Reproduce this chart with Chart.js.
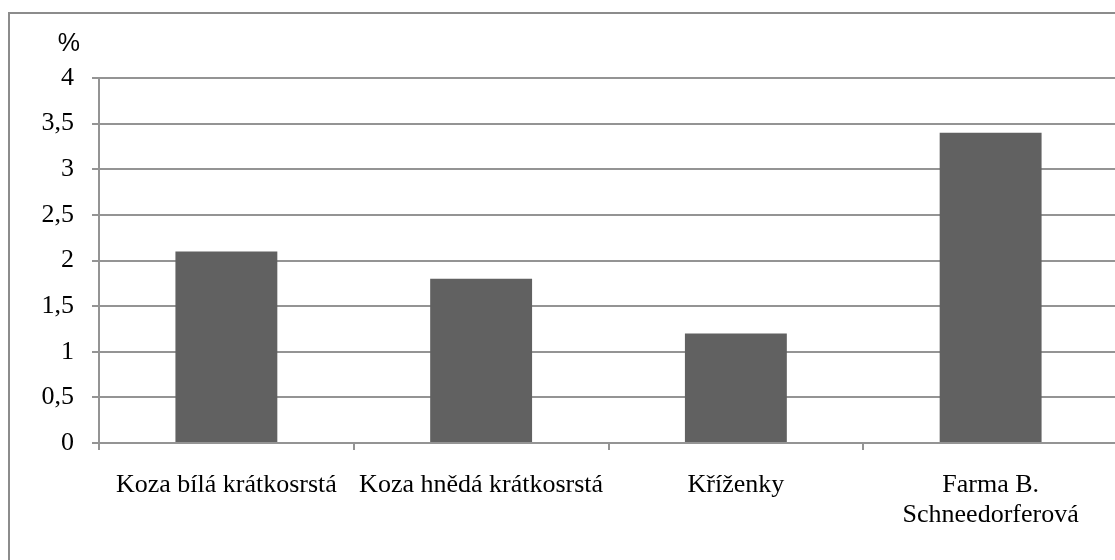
<!DOCTYPE html>
<html>
<head>
<meta charset="utf-8">
<script src="https://cdn.jsdelivr.net/npm/chart.js@4.4.1/dist/chart.umd.min.js"></script>
<style>
  html, body { margin: 0; padding: 0; background: #fff; overflow: hidden; width: 1115px; height: 560px; }
  #frame {
    position: absolute; left: 8px; top: 12px;
    width: 1112px; height: 548px;
    border-left: 2px solid #8c8c8c; border-top: 2px solid #8c8c8c;
  }
  canvas { display: block; }
</style>
</head>
<body>
<div id="frame"><canvas id="c" width="1112" height="548"></canvas></div>
<script>
// Breeds / farm groups on the category axis
const categories = [
  'Koza bílá krátkosrstá',
  'Koza hnědá krátkosrstá',
  'Kříženky',
  ['Farma B.', 'Schneedorferová']
];
// Percentage values per group
const values = [2.1, 1.8, 1.2, 3.4];
// Value axis
const yMin = 0;
const yMax = 4;
const yStep = 0.5;
const unitLabel = '%';

const serif = '"Liberation Serif", "Times New Roman", serif';
const sans = '"Liberation Sans", Arial, sans-serif';
const lineColor = '#949494';

// Draws the unit label above the value axis
const unitPlugin = {
  id: 'unitLabel',
  afterDraw(chart) {
    const ctx = chart.ctx;
    const y = chart.scales.y;
    ctx.save();
    ctx.fillStyle = '#000';
    ctx.font = '25px ' + sans;
    ctx.textAlign = 'right';
    ctx.textBaseline = 'middle';
    ctx.fillText(unitLabel, y.right - 19, y.top - 34);
    ctx.restore();
  }
};

new Chart(document.getElementById('c'), {
  type: 'bar',
  data: {
    labels: categories,
    datasets: [{
      data: values,
      backgroundColor: '#616161',
      borderWidth: 0,
      categoryPercentage: 0.4,
      barPercentage: 1.0
    }]
  },
  options: {
    responsive: false,
    animation: false,
    devicePixelRatio: 1,
    layout: { padding: { top: 64, right: 4, left: 0, bottom: 0 } },
    plugins: {
      legend: { display: false },
      tooltip: { enabled: false },
      title: { display: false }
    },
    scales: {
      x: {
        afterFit(scale) { scale.height = 119; },
        grid: {
          offset: true,
          drawOnChartArea: false,
          drawTicks: true,
          tickLength: 7,
          lineWidth: 2,
          color: lineColor
        },
        border: { display: true, color: lineColor, width: 2 },
        ticks: {
          color: '#000',
          font: { family: serif, size: 26, lineHeight: 1.154 },
          padding: 20,
          maxRotation: 0,
          autoSkip: false
        }
      },
      y: {
        min: yMin,
        max: yMax,
        afterFit(scale) { scale.width = 89; },
        grid: {
          color: lineColor,
          lineWidth: 2,
          tickLength: 7,
          drawTicks: true
        },
        border: { display: true, color: lineColor, width: 2 },
        ticks: {
          stepSize: yStep,
          color: '#000',
          padding: 18,
          font: { family: serif, size: 26 },
          callback: (v) => String(v).replace('.', ',')
        }
      }
    }
  },
  plugins: [unitPlugin]
});
</script>
</body>
</html>
